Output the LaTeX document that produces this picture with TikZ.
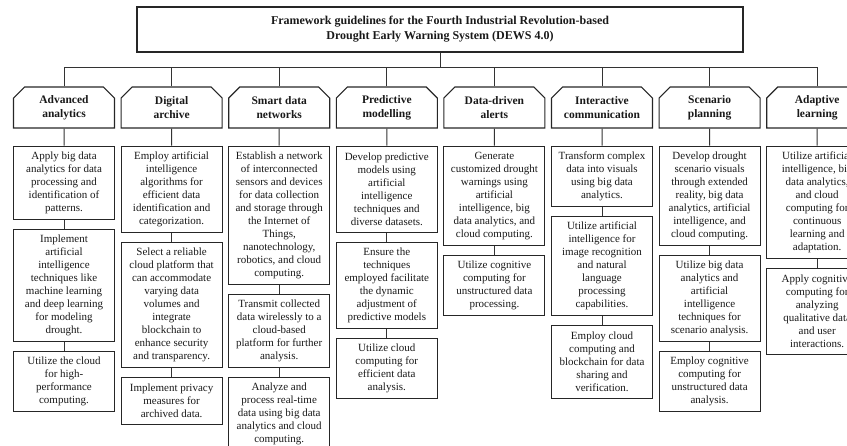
\documentclass[tikz,border=0pt]{standalone}
\usepackage{fontspec}
\setmainfont{Liberation Serif}
\usepackage{tikz}
\usetikzlibrary{positioning, shapes.misc}

\begin{document}
\begin{tikzpicture}[x=1pt, y=1pt,
    framebox/.style={draw=black!85, line width=1.1pt, rectangle, minimum width=606pt, minimum height=45pt, align=center, font=\fontsize{12}{15}\selectfont\bfseries, text=black!90},
    headbox/.style={draw=black!85, line width=1.1pt, chamfered rectangle, chamfered rectangle corners={north west, north east}, chamfered rectangle xsep=8pt, minimum width=101pt, minimum height=41pt, inner sep=0pt, align=center, font=\fontsize{11.5}{14}\selectfont\bfseries, text=black!90},
    taskbox/.style={draw=black!85, line width=1.1pt, rectangle, minimum width=101pt, minimum height=13pt*#1+8pt, inner xsep=2pt, inner ysep=1pt, align=center, font=\fontsize{11}{13}\selectfont, text=black!90},
    link/.style={draw=black!80, line width=1pt}]
        \useasboundingbox (0,0) rectangle (847,-445);

        \node[framebox] (dews) at (440,-29.5) {Framework guidelines for the Fourth Industrial Revolution-based\\Drought Early Warning System (DEWS 4.0)};
        \coordinate (bar) at (440,-67);

        \node[headbox] (h1) at (64,-107.5) {Advanced\\analytics};
        \node[headbox] (h2) at (171.6,-107.5) {Digital\\archive};
        \node[headbox] (h3) at (279.2,-107.5) {Smart data\\networks};
        \node[headbox] (h4) at (386.8,-107.5) {Predictive\\modelling};
        \node[headbox] (h5) at (494.4,-107.5) {Data-driven\\alerts};
        \node[headbox] (h6) at (602,-107.5) {Interactive\\communication};
        \node[headbox] (h7) at (709.6,-107.5) {Scenario\\planning};
        \node[headbox] (h8) at (817.2,-107.5) {Adaptive\\learning};

        \node[taskbox=5, below=17pt of h1] (h1a) {Apply big data\\analytics for data\\processing and\\identification of\\patterns.};
        \node[taskbox=8, below=9pt of h1a] (h1b) {Implement\\artificial\\intelligence\\techniques like\\machine learning\\and deep learning\\for modeling\\drought.};
        \node[taskbox=4, below=9pt of h1b] (h1c) {Utilize the cloud\\for high-\\performance\\computing.};

        \node[taskbox=6, below=17pt of h2] (h2a) {Employ artificial\\intelligence\\algorithms for\\efficient data\\identification and\\categorization.};
        \node[taskbox=9, below=9pt of h2a] (h2b) {Select a reliable\\cloud platform that\\can accommodate\\varying data\\volumes and\\integrate\\blockchain to\\enhance security\\and transparency.};
        \node[taskbox=3, below=9pt of h2b] (h2c) {Implement privacy\\measures for\\archived data.};

        \node[taskbox=10, below=17pt of h3] (h3a) {Establish a network\\of interconnected\\sensors and devices\\for data collection\\and storage through\\the Internet of\\Things,\\nanotechnology,\\robotics, and cloud\\computing.};
        \node[taskbox=5, below=9pt of h3a] (h3b) {Transmit collected\\data wirelessly to a\\cloud-based\\platform for further\\analysis.};
        \node[taskbox=5, below=9pt of h3b] (h3c) {Analyze and\\process real-time\\data using big data\\analytics and cloud\\computing.};

        \node[taskbox=6, below=17pt of h4] (h4a) {Develop predictive\\models using\\artificial\\intelligence\\techniques and\\diverse datasets.};
        \node[taskbox=6, below=9pt of h4a] (h4b) {Ensure the\\techniques\\employed facilitate\\the dynamic\\adjustment of\\predictive models};
        \node[taskbox=4, below=9pt of h4b] (h4c) {Utilize cloud\\computing for\\efficient data\\analysis.};

        \node[taskbox=7, below=17pt of h5] (h5a) {Generate\\customized drought\\warnings using\\artificial\\intelligence, big\\data analytics, and\\cloud computing.};
        \node[taskbox=4, below=9pt of h5a] (h5b) {Utilize cognitive\\computing for\\unstructured data\\processing.};

        \node[taskbox=4, below=17pt of h6] (h6a) {Transform complex\\data into visuals\\using big data\\analytics.};
        \node[taskbox=7, below=9pt of h6a] (h6b) {Utilize artificial\\intelligence for\\image recognition\\and natural\\language\\processing\\capabilities.};
        \node[taskbox=5, below=9pt of h6b] (h6c) {Employ cloud\\computing and\\blockchain for data\\sharing and\\verification.};

        \node[taskbox=7, below=17pt of h7] (h7a) {Develop drought\\scenario visuals\\through extended\\reality, big data\\analytics, artificial\\intelligence, and\\cloud computing.};
        \node[taskbox=6, below=9pt of h7a] (h7b) {Utilize big data\\analytics and\\artificial\\intelligence\\techniques for\\scenario analysis.};
        \node[taskbox=4, below=9pt of h7b] (h7c) {Employ cognitive\\computing for\\unstructured data\\analysis.};

        \node[taskbox=8, below=17pt of h8] (h8a) {Utilize artificial\\intelligence, big\\data analytics,\\and cloud\\computing for\\continuous\\learning and\\adaptation.};
        \node[taskbox=6, below=9pt of h8a] (h8b) {Apply cognitive\\computing for\\analyzing\\qualitative data\\and user\\interactions.};

        % tree above the headers
        \draw[link] (dews.south) -- (bar);
        \draw[link] (h1.north |- bar) -- (h8.north |- bar);
        \foreach \col in {1,...,8} \draw[link] (h\col.north) -- (h\col.north |- bar);

        \foreach \up/\down in
        {h1/h1a,h1a/h1b,h1b/h1c,h2/h2a,h2a/h2b,h2b/h2c,h3/h3a,h3a/h3b,h3b/h3c,h4/h4a,h4a/h4b,h4b/h4c,
         h5/h5a,h5a/h5b,h6/h6a,h6a/h6b,h6b/h6c,h7/h7a,h7a/h7b,h7b/h7c,h8/h8a,h8a/h8b} \draw[link] (\up)--(\down);
\end{tikzpicture}
\end{document}
